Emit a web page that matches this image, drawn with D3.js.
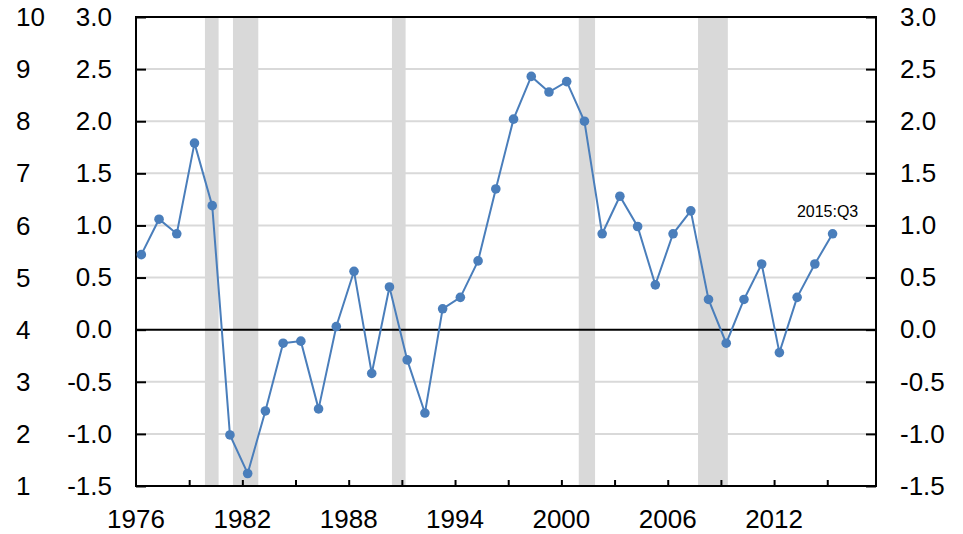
<!DOCTYPE html>
<html>
<head>
<meta charset="utf-8">
<script src="https://cdn.jsdelivr.net/npm/d3@7"></script>
<style>
  html, body { margin: 0; padding: 0; background: #fff; }
  svg { display: block; font-family: "Liberation Sans", Arial, sans-serif; }
</style>
</head>
<body>
<svg id="chart" width="963" height="534"></svg>
<script>
// ---- data ----
const years = d3.range(1976, 2016);
const values = [0.72, 1.06, 0.92, 1.79, 1.19, -1.01, -1.38, -0.78, -0.13, -0.11,
                -0.76, 0.03, 0.56, -0.42, 0.41, -0.29, -0.80, 0.20, 0.31, 0.66,
                1.35, 2.02, 2.43, 2.28, 2.38, 2.00, 0.92, 1.28, 0.99, 0.43,
                0.92, 1.14, 0.29, -0.13, 0.29, 0.63, -0.22, 0.31, 0.63, 0.92];
const recessionStarts = [1979.89, 1981.47, 1990.44, 2000.98, 2007.71];
const recessionEnds   = [1980.66, 1982.90, 1991.21, 2001.90, 2009.39];
const xTickYears  = d3.range(1979, 2016, 3);
const xLabelYears = [1976, 1982, 1988, 1994, 2000, 2006, 2012];
const yTicks      = [3.0, 2.5, 2.0, 1.5, 1.0, 0.5, 0.0, -0.5, -1.0, -1.5];
const outerLabels = [10, 9, 8, 7, 6, 5, 4, 3, 2, 1];
const lastLabel   = "2015:Q3";
const pointOffset = 0.3; // position of annual observation within year

// ---- layout ----
const L = 136, R = 876, T = 17, B = 486;
const svg = d3.select("#chart");
const x = d3.scaleLinear().domain([1976, 2017.75]).range([L, R]);
const y = d3.scaleLinear().domain([-1.5, 3.0]).range([B, T]);
const yOuter = d3.scaleLinear().domain([1, 10]).range([B, T]);
const fmt = v => v.toFixed(1); // plain hyphen-minus like the reference

const data = years.map((yr, i) => ({ t: yr + pointOffset, v: values[i] }));

// gridlines
svg.append("g").selectAll("line")
  .data(yTicks.filter(v => v !== 0 && v !== 3.0 && v !== -1.5))
  .join("line")
  .attr("x1", L).attr("x2", R)
  .attr("y1", d => y(d)).attr("y2", d => y(d))
  .attr("stroke", "#d9d9d9").attr("stroke-width", 2);

// recession bands
svg.append("g").selectAll("rect")
  .data(recessionStarts.map((s, i) => [s, recessionEnds[i]]))
  .join("rect")
  .attr("x", d => x(d[0])).attr("width", d => x(d[1]) - x(d[0]))
  .attr("y", T).attr("height", B - T)
  .attr("fill", "#d9d9d9");

// zero line
svg.append("line")
  .attr("x1", L).attr("x2", R).attr("y1", y(0)).attr("y2", y(0))
  .attr("stroke", "#000").attr("stroke-width", 2);

// axes
const leftAxis = d3.axisLeft(y).tickValues(yTicks).tickSize(-10).tickFormat(fmt);
const rightAxis = d3.axisRight(y).tickValues(yTicks).tickSize(-10).tickFormat(fmt);
const bottomAxis = d3.axisBottom(x).tickValues(xTickYears).tickSize(-6).tickFormat("");

const gl = svg.append("g").attr("transform", `translate(${L},0)`).call(leftAxis);
const gr = svg.append("g").attr("transform", `translate(${R},0)`).call(rightAxis);
const gb = svg.append("g").attr("transform", `translate(0,${B})`).call(bottomAxis);
[gl, gr, gb].forEach(g => {
  g.select(".domain").remove();
  g.selectAll(".tick line").attr("stroke", "#000").attr("stroke-width", 2);
});
gl.selectAll(".tick text").attr("x", -24).attr("font-size", 26).attr("fill", "#000")
  .attr("text-anchor", "end").attr("font-family", "Liberation Sans, Arial, sans-serif");
gr.selectAll(".tick text").attr("x", 24).attr("font-size", 26).attr("fill", "#000")
  .attr("text-anchor", "start").attr("font-family", "Liberation Sans, Arial, sans-serif");

// outer left labels
svg.append("g").selectAll("text")
  .data(outerLabels)
  .join("text")
  .attr("x", 16).attr("y", d => yOuter(d)).attr("dy", "0.35em")
  .attr("font-size", 26).attr("fill", "#000").text(d => d);

// x labels
svg.append("g").selectAll("text")
  .data(xLabelYears)
  .join("text")
  .attr("x", d => x(d)).attr("y", 528)
  .attr("text-anchor", "middle").attr("font-size", 26).attr("fill", "#000").text(d => d);

// frame
svg.append("rect").attr("x", L).attr("y", T).attr("width", R - L).attr("height", B - T)
  .attr("fill", "none").attr("stroke", "#000").attr("stroke-width", 2);

// line + markers
const line = d3.line().x(d => x(d.t)).y(d => y(d.v));
svg.append("path").datum(data).attr("d", line)
  .attr("fill", "none").attr("stroke", "#4a7ebb").attr("stroke-width", 2);
svg.append("g").selectAll("circle").data(data).join("circle")
  .attr("cx", d => x(d.t)).attr("cy", d => y(d.v)).attr("r", 4.8)
  .attr("fill", "#4a7ebb");

// annotation
const last = data[data.length - 1];
svg.append("text")
  .attr("x", x(last.t) - 5).attr("y", y(last.v) - 17)
  .attr("text-anchor", "middle").attr("font-size", 16).attr("fill", "#000")
  .text(lastLabel);
</script>
</body>
</html>
